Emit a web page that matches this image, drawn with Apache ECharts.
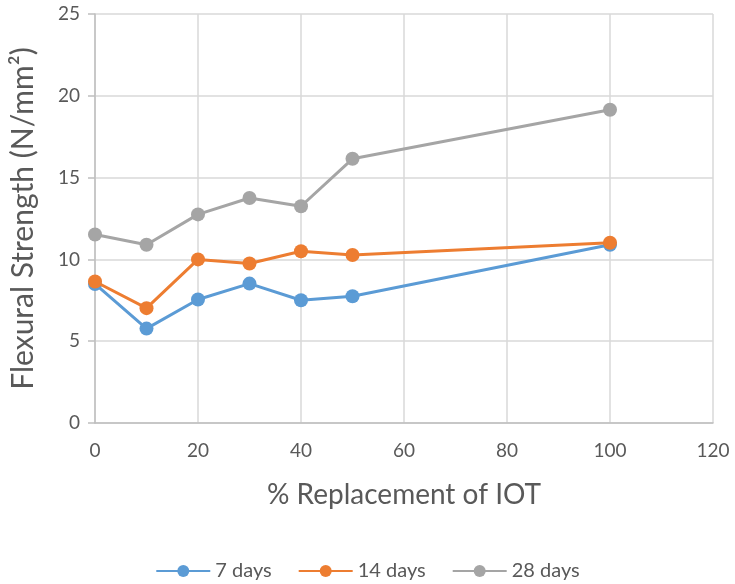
<!DOCTYPE html>
<html>
<head>
<meta charset="utf-8">
<script src="https://cdn.jsdelivr.net/npm/echarts@6/dist/echarts.min.js"></script>
<style>
  html, body { margin: 0; padding: 0; background: #fff; }
  #chart { width: 735px; height: 584px; }
</style>
</head>
<body>
<div id="chart"></div>
<script>
// % replacement of IOT (x) and flexural strength in N/mm² at each curing age
const replacement = [0, 10, 20, 30, 40, 50, 100];
const days7  = [8.5, 5.77, 7.55, 8.52, 7.5, 7.75, 10.9];
const days14 = [8.65, 7.02, 10.0, 9.75, 10.5, 10.27, 11.02];
const days28 = [11.52, 10.9, 12.75, 13.75, 13.25, 16.15, 19.15];
const seriesNames = ['7 days', '14 days', '28 days'];
const seriesColors = ['#5B9BD5', '#ED7D31', '#A5A5A5'];

const pairs = vals => replacement.map((x, i) => [x, vals[i]]);
const FONT = 'Lato, "Open Sans", sans-serif';
const TXT = '#595959';

const chart = echarts.init(document.getElementById('chart'));
chart.setOption({
  animation: false,
  textStyle: { fontFamily: FONT },
  grid: { left: 93, right: 22, top: 14, bottom: 161, containLabel: false },
  xAxis: {
    type: 'value', min: 0, max: 120, interval: 20,
    name: '% Replacement of IOT', nameLocation: 'middle', nameGap: 58,
    nameTextStyle: { fontSize: 28, color: TXT, fontFamily: FONT },
    axisLine: { show: true, lineStyle: { color: '#BFBFBF', width: 1.5 } },
    axisTick: { show: false },
    axisLabel: { fontSize: 19, color: TXT, margin: 18, fontFamily: FONT },
    splitLine: { show: true, lineStyle: { color: '#D9D9D9', width: 1.5 } }
  },
  yAxis: {
    type: 'value', min: 0, max: 25, interval: 5,
    name: 'Flexural Strength (N/mm²)', nameLocation: 'middle', nameGap: 57,
    nameTextStyle: { fontSize: 30, color: TXT, fontFamily: FONT },
    axisLine: { show: true, lineStyle: { color: '#BFBFBF', width: 1.5 } },
    axisTick: { show: true, length: 7, lineStyle: { color: '#BFBFBF', width: 1.5 } },
    axisLabel: { fontSize: 19, color: TXT, margin: 15, fontFamily: FONT },
    splitLine: { show: true, lineStyle: { color: '#D9D9D9', width: 1.5 } }
  },
  legend: {
    top: 556, left: 'center', itemGap: 26, itemWidth: 54, itemHeight: 15,
    textStyle: { fontSize: 20, color: TXT, fontFamily: FONT },
    data: seriesNames
  },
  series: [days7, days14, days28].map((vals, i) => ({
    name: seriesNames[i],
    type: 'line',
    data: pairs(vals),
    symbol: 'circle',
    symbolSize: 14,
    color: seriesColors[i],
    lineStyle: { width: 3, color: seriesColors[i] },
    itemStyle: { color: seriesColors[i] },
    z: 2 + i
  }))
});
</script>
</body>
</html>
